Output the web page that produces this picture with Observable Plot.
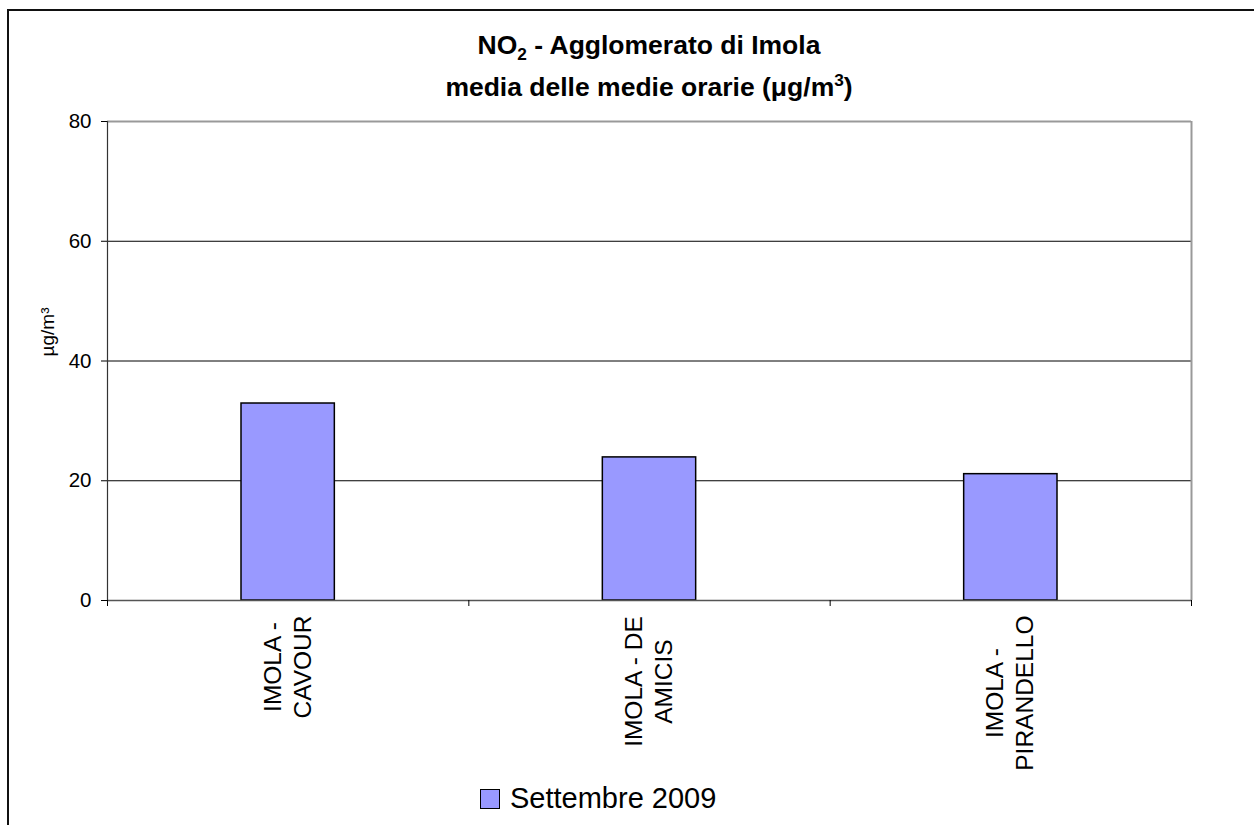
<!DOCTYPE html>
<html>
<head>
<meta charset="utf-8">
<script src="https://cdn.jsdelivr.net/npm/d3@7"></script>
<script src="https://cdn.jsdelivr.net/npm/@observablehq/plot@0.6"></script>
<style>
  html, body { margin: 0; padding: 0; background: #fff; }
  #wrap { position: relative; width: 1254px; height: 825px; overflow: hidden; font-family: "Liberation Sans", Arial, sans-serif; background:#fff; }
  #outer { position: absolute; left: 7px; top: 9px; width: 1400px; height: 1000px; border-left: 2px solid #111; border-top: 2px solid #111; }
  #title { position: absolute; left: 107px; top: 24px; width: 1084px; text-align: center; font-weight: bold; font-size: 26.5px; line-height: 42px; color: #000; }
  #title sub, #title sup { font-size: 0.65em; line-height: 0; }
  #chart { position: absolute; left: 0; top: 0; }
  #ylabel { position: absolute; left: 48px; top: 332px; transform: translate(-50%, -50%) rotate(-90deg); font-size: 19px; white-space: nowrap; color:#000; }
  #legend { position: absolute; left: 480px; top: 782px; display: flex; align-items: center; font-size: 29px; color:#000; }
  #legend .sw { width: 18px; height: 18px; background: #9999FF; border: 1.5px solid #000; margin-right: 10px; }
</style>
</head>
<body>
<div id="wrap">
  <div id="outer"></div>
  <div id="title">NO<sub>2</sub> - Agglomerato di Imola<br>media delle medie orarie (μg/m<sup>3</sup>)</div>
  <div id="chart"></div>
  <div id="ylabel">µg/m³</div>
  <div id="legend"><div class="sw"></div><span>Settembre 2009</span></div>
</div>
<script>
const stations = ["IMOLA - CAVOUR", "IMOLA - DE AMICIS", "IMOLA - PIRANDELLO"];
const stationLabels = ["IMOLA -\nCAVOUR", "IMOLA - DE\nAMICIS", "IMOLA -\nPIRANDELLO"];
const values = [32.9, 23.9, 21.1];
const yTicks = [0, 20, 40, 60, 80];
const gridValues = [20, 40, 60];
const seriesName = "Settembre 2009";

const data = stations.map((s, i) => ({station: s, label: stationLabels[i], i, value: values[i]}));

const W = 1254, H = 780;
const mTop = 121, mLeft = 107, mRight = 63, mBottom = 180;
const labelFont = 24.5;
const fontFamily = '"Liberation Sans", Arial, sans-serif';

// measure the longest line of each category label so lines are centred together
const ctx = document.createElement("canvas").getContext("2d");
ctx.font = `${labelFont}px ${fontFamily}`;
const labelTop = 15;

const labelMarks = data.map(d => {
  const maxLen = Math.max(...d.label.split("\n").map(t => ctx.measureText(t).width));
  return Plot.text([d], {
    x: dd => dd.i + 0.5, y: () => 0, text: "label",
    rotate: -90, textAnchor: "middle", lineAnchor: "middle",
    dy: labelTop + maxLen / 2, dx: -2, fontSize: labelFont, fill: "#000", lineHeight: 1.22
  });
});

const chart = Plot.plot({
  width: W, height: H,
  marginTop: mTop, marginLeft: mLeft, marginRight: mRight, marginBottom: mBottom,
  style: {fontFamily, background: "transparent", color: "#000"},
  x: {domain: [0, stations.length], axis: null},
  y: {domain: [0, 80], axis: null},
  marks: [
    Plot.ruleY(gridValues, {stroke: "#000", strokeWidth: 1}),
    Plot.rectY(data, {x1: "i", x2: d => d.i + 1, y: "value", fill: "#9999FF", stroke: "#000", strokeWidth: 1.5, insetLeft: 134, insetRight: 134}),
    Plot.ruleY([80], {stroke: "#999", strokeWidth: 2}),
    Plot.ruleX([stations.length], {y1: 0, y2: 80, stroke: "#999", strokeWidth: 2}),
    Plot.ruleY([0], {stroke: "#555", strokeWidth: 1.5}),
    Plot.ruleX([0], {y1: 0, y2: 80, stroke: "#333", strokeWidth: 1.2}),
    Plot.axisY({ticks: yTicks, tickSize: 6, tickPadding: 10, fontSize: 20.5, label: null, stroke: "#000", strokeOpacity: 1}),
    Plot.axisX({ticks: d3.range(stations.length + 1), tickFormat: () => "", tickSize: 6, label: null, stroke: "#000", strokeOpacity: 1}),
    ...labelMarks
  ]
});
document.getElementById("chart").appendChild(chart);
</script>
</body>
</html>
